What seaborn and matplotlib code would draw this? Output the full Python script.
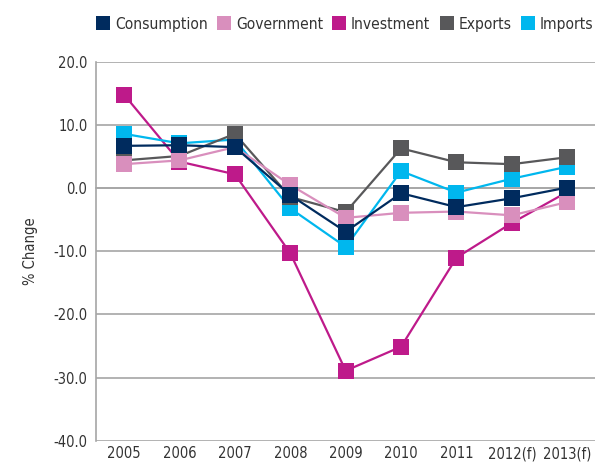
import numpy as np
import pandas as pd
import seaborn as sns
import matplotlib.pyplot as plt
from matplotlib.lines import Line2D

years = ["2005", "2006", "2007", "2008", "2009", "2010", "2011", "2012(f)", "2013(f)"]
consumption = [6.7, 6.8, 6.5, -1.1, -6.9, -0.8, -3.0, -1.6, 0.1]
government = [3.8, 4.4, 6.5, 0.5, -4.7, -3.9, -3.7, -4.3, -2.2]
investment = [14.8, 4.2, 2.2, -10.3, -28.9, -25.1, -11.0, -5.5, -0.6]
exports = [4.4, 5.1, 8.6, -1.4, -3.8, 6.3, 4.1, 3.8, 4.9]
imports = [8.6, 7.1, 7.7, -3.2, -9.3, 2.7, -0.7, 1.5, 3.4]

series = ["Consumption", "Government", "Investment", "Exports", "Imports"]
colors = {"Consumption": "#002b5e", "Government": "#d98fbd", "Investment": "#be1a8a",
          "Exports": "#58585a", "Imports": "#00b7ee"}

df = pd.DataFrame({
    "year": years * 5,
    "value": consumption + government + investment + exports + imports,
    "series": sum([[s] * len(years) for s in series], []),
})

sns.set_style("white")
plt.rcParams['font.family'] = ['DejaVu Sans']
plt.rcParams['font.stretch'] = 'condensed'

fig = plt.figure(figsize=(5.95, 4.65), dpi=100)
ax = fig.add_axes([0.162, 0.052, 0.838, 0.815])

# draw order: bottom to top
for s, z in zip(["Investment", "Imports", "Exports", "Government", "Consumption"], range(3, 8)):
    sns.lineplot(data=df[df.series == s], x="year", y="value", color=colors[s],
                 marker="s", markersize=11, markeredgewidth=0, linewidth=1.6,
                 ax=ax, zorder=z, legend=False)

ax.set_xlim(-0.5, 8.5)
ax.set_ylim(-40, 20)
ax.set_yticks(np.arange(-40, 21, 10))
ax.set_yticklabels([f"{v:.1f}" for v in np.arange(-40, 21, 10)])
ax.yaxis.grid(True, color="#a6a6a6", linewidth=1.2)
ax.set_axisbelow(True)

for sp in ["top", "right"]:
    ax.spines[sp].set_visible(False)
ax.spines["left"].set_color("#a6a6a6")
ax.spines["left"].set_linewidth(1.2)
ax.spines["bottom"].set_position(("data", 0))
ax.spines["bottom"].set_color("#a6a6a6")
ax.spines["bottom"].set_linewidth(1.2)

ax.set_xticks(np.arange(-0.5, 8.6, 1))
ax.set_xticklabels([])
ax.tick_params(axis="x", direction="out", length=8, width=1.2, color="#a6a6a6")
ax.tick_params(axis="y", length=3, width=1.2, color="#a6a6a6", labelsize=10.5, labelcolor="#333333")

sec = ax.secondary_xaxis("bottom")
sec.set_xticks(range(len(years)))
sec.set_xticklabels(years)
sec.tick_params(length=0, labelsize=10.5, labelcolor="#333333", pad=4)
sec.spines["bottom"].set_visible(False)

ax.set_xlabel("")
ax.set_ylabel("% Change", fontsize=10.5, color="#333333", labelpad=11)

handles = [Line2D([], [], linestyle="none", marker="s", markersize=10,
                  markeredgewidth=0, color=colors[s]) for s in series]
fig.legend(handles, series, loc="center right", bbox_to_anchor=(1.02, 0.948),
           ncol=5, frameon=False, fontsize=11.2, handletextpad=0.3,
           columnspacing=0.6, handlelength=0.9, labelcolor="#333333")

fig.savefig("out.png", dpi=100)
